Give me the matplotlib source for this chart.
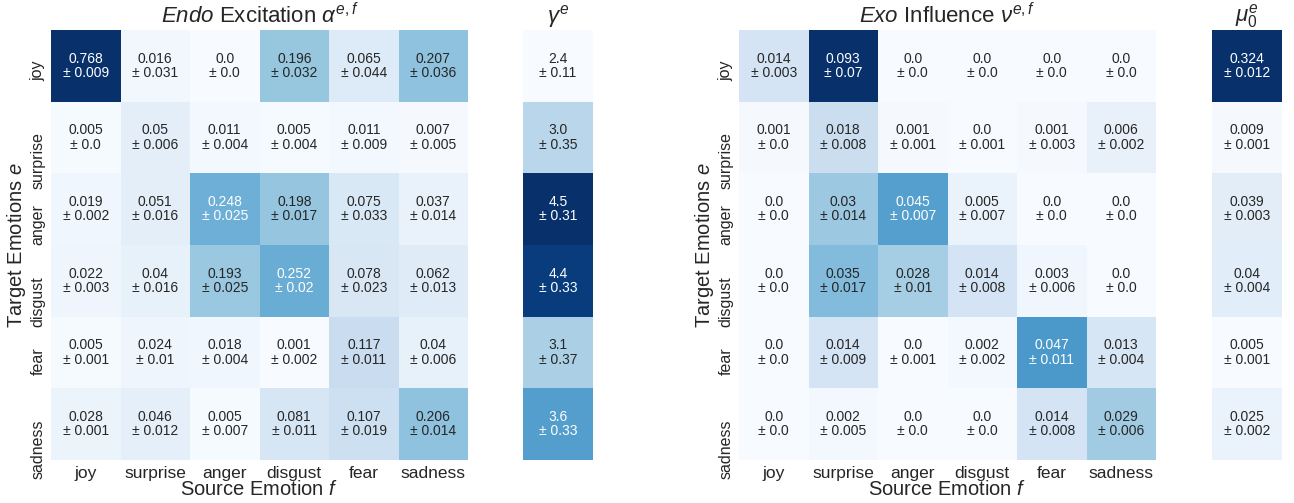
import numpy as np
import matplotlib
matplotlib.use("Agg")
import matplotlib.pyplot as plt
from matplotlib.colors import Normalize

plt.rcParams["font.family"] = ["Liberation Sans", "DejaVu Sans"]
plt.rcParams["mathtext.fontset"] = "custom"
plt.rcParams["mathtext.rm"] = "Liberation Sans"
plt.rcParams["mathtext.it"] = "Liberation Sans:italic"
plt.rcParams["mathtext.bf"] = "Liberation Sans:bold"

emotions = ["joy", "surprise", "anger", "disgust", "fear", "sadness"]

endo_mean = [
    [0.768, 0.016, 0.0, 0.196, 0.065, 0.207],
    [0.005, 0.05, 0.011, 0.005, 0.011, 0.007],
    [0.019, 0.051, 0.248, 0.198, 0.075, 0.037],
    [0.022, 0.04, 0.193, 0.252, 0.078, 0.062],
    [0.005, 0.024, 0.018, 0.001, 0.117, 0.04],
    [0.028, 0.046, 0.005, 0.081, 0.107, 0.206],
]
endo_std = [
    [0.009, 0.031, 0.0, 0.032, 0.044, 0.036],
    [0.0, 0.006, 0.004, 0.004, 0.009, 0.005],
    [0.002, 0.016, 0.025, 0.017, 0.033, 0.014],
    [0.003, 0.016, 0.025, 0.02, 0.023, 0.013],
    [0.001, 0.01, 0.004, 0.002, 0.011, 0.006],
    [0.001, 0.012, 0.007, 0.011, 0.019, 0.014],
]
gamma_mean = [2.4, 3.0, 4.5, 4.4, 3.1, 3.6]
gamma_std = [0.11, 0.35, 0.31, 0.33, 0.37, 0.33]

exo_mean = [
    [0.014, 0.093, 0.0, 0.0, 0.0, 0.0],
    [0.001, 0.018, 0.001, 0.0, 0.001, 0.006],
    [0.0, 0.03, 0.045, 0.005, 0.0, 0.0],
    [0.0, 0.035, 0.028, 0.014, 0.003, 0.0],
    [0.0, 0.014, 0.0, 0.002, 0.047, 0.013],
    [0.0, 0.002, 0.0, 0.0, 0.014, 0.029],
]
exo_std = [
    [0.003, 0.07, 0.0, 0.0, 0.0, 0.0],
    [0.0, 0.008, 0.001, 0.001, 0.003, 0.002],
    [0.0, 0.014, 0.007, 0.007, 0.0, 0.0],
    [0.0, 0.017, 0.01, 0.008, 0.006, 0.0],
    [0.0, 0.009, 0.001, 0.002, 0.011, 0.004],
    [0.0, 0.005, 0.0, 0.0, 0.008, 0.006],
]
mu_mean = [0.324, 0.009, 0.039, 0.04, 0.005, 0.025]
mu_std = [0.012, 0.001, 0.003, 0.004, 0.001, 0.002]

TEXT_DARK = (0.15, 0.15, 0.15)
cmap = plt.get_cmap("Blues")


def luminance(rgb):
    c = np.asarray(rgb[:3], dtype=float)
    c = np.where(c <= 0.03928, c / 12.92, ((c + 0.055) / 1.055) ** 2.4)
    return float(np.dot([0.2126, 0.7152, 0.0722], c))


def heat(ax, mean, std, vmin, vmax, xlabels, ylabels, title):
    mean = np.atleast_2d(np.asarray(mean, dtype=float))
    std = np.atleast_2d(np.asarray(std, dtype=float))
    if mean.shape[0] == 1:
        mean, std = mean.T, std.T
    nrow, ncol = mean.shape
    norm = Normalize(vmin=vmin, vmax=vmax)
    ax.pcolormesh(np.arange(ncol + 1), np.arange(nrow + 1), mean,
                  cmap=cmap, norm=norm, edgecolors="none")
    ax.set_xlim(0, ncol)
    ax.set_ylim(nrow, 0)
    for i in range(nrow):
        for j in range(ncol):
            col = cmap(norm(mean[i, j]))
            tc = TEXT_DARK if luminance(col) > 0.408 else "white"
            ax.text(j + 0.5, i + 0.5, f"{mean[i, j]}\n\u00b1 {std[i, j]}",
                    ha="center", va="center", fontsize=10, linespacing=1.05,
                    color=tc)
    for s in ax.spines.values():
        s.set_visible(False)
    ax.tick_params(length=0, colors=TEXT_DARK, pad=4)
    if xlabels:
        ax.set_xticks(np.arange(ncol) + 0.5)
        ax.set_xticklabels(xlabels, fontsize=12.5)
    else:
        ax.set_xticks([])
    if ylabels:
        # vertical labels hang down from just above each row centre
        ax.set_yticks(np.arange(nrow) + 0.43)
        ax.set_yticklabels(ylabels, rotation=90, va="top", ha="right",
                           fontsize=11.5)
    else:
        ax.set_yticks([])
    ax.set_title(title, fontsize=16, color=TEXT_DARK, pad=5)


fig = plt.figure(figsize=(12.94, 5.03), dpi=100)
W, H = 1294.0, 503.0
bottom = (H - 460) / H
height = 430 / H

ax_endo = fig.add_axes([51 / W, bottom, 417 / W, height])
ax_gam = fig.add_axes([523 / W, bottom, 70 / W, height])
ax_exo = fig.add_axes([739 / W, bottom, 417 / W, height])
ax_mu = fig.add_axes([1212 / W, bottom, 70 / W, height])

heat(ax_endo, endo_mean, endo_std, 0.0, 0.5, emotions, emotions,
     r"$\it{Endo}$ Excitation $\alpha^{e,f}$")
heat(ax_gam, gamma_mean, gamma_std, min(gamma_mean), max(gamma_mean),
     None, None, r"$\gamma^{e}$")
heat(ax_exo, exo_mean, exo_std, 0.0, 0.079, emotions, emotions,
     r"$\it{Exo}$ Influence $\nu^{e,f}$")
heat(ax_mu, mu_mean, mu_std, min(mu_mean), max(mu_mean),
     None, None, r"$\mu_0^{e}$")

for ax in (ax_endo, ax_exo):
    ax.set_xlabel(r"Source Emotion $f$", fontsize=14.5, color=TEXT_DARK)
    ax.set_ylabel(r"Target Emotions $e$", fontsize=14.5, color=TEXT_DARK)
    ax.xaxis.set_label_coords(0.5, -0.047)
    ax.yaxis.set_label_coords(-0.056, 0.5)

fig.savefig("out.png", dpi=100, facecolor="white")
